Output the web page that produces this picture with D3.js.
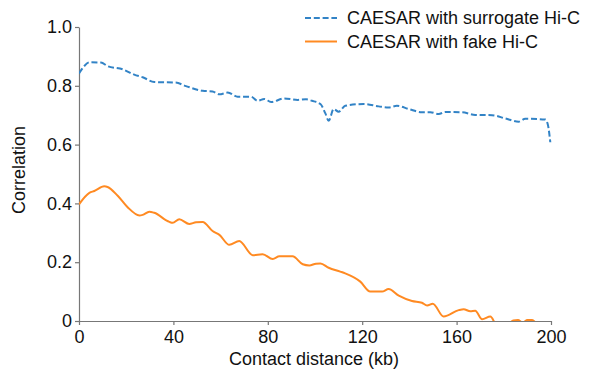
<!DOCTYPE html>
<html>
<head>
<meta charset="utf-8">
<script src="https://cdn.jsdelivr.net/npm/d3@7"></script>
<style>
    body { margin: 0; background: #fff; }
    text { font-family: "Liberation Sans", Arial, sans-serif; fill: #111; }
</style>
</head>
<body>
<div id="chart"></div>
<script>

const frame_width = 595;
const frame_height = 371;
const margins = {left: 79, right: 44, top: 27, bottom: 50};

// series: contact distance (kb) and correlation
const surrogate_x = [0, 2, 4.4, 9.3, 12.1, 18.5, 23.4, 27, 31.9, 41, 45.3, 52.4, 56.6, 59.5, 63, 67.2, 72.9, 75.7, 78.5, 81.4, 87, 92.7, 96.2, 98.7, 102.3, 104.4, 105.8, 107.9, 110, 112.8, 120.6, 127, 131.2, 134.7, 139.7, 145.3, 148.9, 152.4, 155.2, 162.3, 167.9, 175, 180.6, 186.3, 189.1, 197.6, 198.7, 199.7];
const surrogate_y = [0.842, 0.865, 0.880, 0.879, 0.867, 0.856, 0.838, 0.829, 0.813, 0.811, 0.799, 0.783, 0.781, 0.771, 0.777, 0.763, 0.763, 0.749, 0.755, 0.745, 0.757, 0.752, 0.754, 0.749, 0.738, 0.706, 0.681, 0.721, 0.712, 0.732, 0.738, 0.730, 0.726, 0.732, 0.721, 0.710, 0.710, 0.704, 0.711, 0.710, 0.701, 0.700, 0.689, 0.678, 0.688, 0.685, 0.667, 0.608];

const fake_x = [0, 4.4, 6.5, 10.7, 12.1, 16.4, 20.6, 25.6, 27, 29.8, 31.9, 38.3, 39.7, 42.5, 46.7, 49.6, 52.4, 56.6, 59.5, 63.7, 67.9, 73.6, 77.8, 82.1, 84.9, 90.5, 94.8, 97.6, 100.4, 102.3, 105.8, 110.7, 112.8, 119.2, 123.4, 128.4, 131.2, 135.5, 141.1, 145.3, 147.5, 149.9, 154.5, 160.9, 163, 165.8, 167.9, 170.8, 174.3, 176.5, 180, 184, 186, 188, 190, 192, 195, 200];
const fake_y = [0.397, 0.436, 0.442, 0.458, 0.456, 0.426, 0.387, 0.359, 0.361, 0.372, 0.368, 0.337, 0.334, 0.346, 0.330, 0.336, 0.337, 0.306, 0.293, 0.259, 0.272, 0.224, 0.227, 0.211, 0.220, 0.220, 0.193, 0.189, 0.195, 0.196, 0.181, 0.168, 0.162, 0.134, 0.100, 0.100, 0.109, 0.086, 0.068, 0.062, 0.053, 0.059, 0.015, 0.037, 0.040, 0.033, 0.035, 0.006, 0.015, -0.01, -0.03, 0.002, 0.003, -0.005, 0.003, 0.003, -0.02, -0.05];

const series_names = ["CAESAR with surrogate Hi-C", "CAESAR with fake Hi-C"];
const x_ticks = [0, 40, 80, 120, 160, 200];
const y_ticks = [0, 0.2, 0.4, 0.6, 0.8, 1.0];

const FRAME1 = d3.select("#chart")
    .append("svg")
        .attr("width", frame_width)
        .attr("height", frame_height);

const X_SCALE = d3.scaleLinear()
    .domain([0, 200])
    .range([margins.left, frame_width - margins.right]);

const Y_SCALE = d3.scaleLinear()
    .domain([0, 1])
    .range([frame_height - margins.bottom, margins.top]);

// clip so the fake series does not go under the x axis
FRAME1.append("defs").append("clipPath")
    .attr("id", "clip")
    .append("rect")
        .attr("x", margins.left)
        .attr("y", 0)
        .attr("width", frame_width - margins.left - margins.right + 4)
        .attr("height", Y_SCALE(0));

// x axis
const xAxis = FRAME1.append("g")
    .attr("transform", "translate(0," + Y_SCALE(0) + ")")
    .call(d3.axisBottom(X_SCALE).tickValues(x_ticks).tickSize(4).tickSizeOuter(0));

// y axis
const yAxis = FRAME1.append("g")
    .attr("transform", "translate(" + X_SCALE(0) + ",0)")
    .call(d3.axisLeft(Y_SCALE).tickValues(y_ticks).tickSize(4).tickSizeOuter(0)
        .tickFormat(d => d === 0 ? "0" : d.toFixed(1)));

[xAxis, yAxis].forEach(ax => {
    ax.select(".domain").attr("stroke", "#777").attr("stroke-width", 1.2);
    ax.selectAll(".tick line").attr("stroke", "#777").attr("stroke-width", 1.2);
    ax.selectAll(".tick text")
        .attr("font-size", "18px")
        .attr("font-family", "Liberation Sans, Arial, sans-serif")
        .attr("fill", "#111");
});
xAxis.selectAll(".tick text").attr("dy", "0.85em");
yAxis.selectAll(".tick text").attr("x", -7);

// axis titles
FRAME1.append("text")
    .attr("x", 314)
    .attr("y", 365)
    .attr("text-anchor", "middle")
    .attr("font-size", "18px")
    .text("Contact distance (kb)");

FRAME1.append("text")
    .attr("transform", "translate(25,170) rotate(-90)")
    .attr("text-anchor", "middle")
    .attr("font-size", "18px")
    .text("Correlation");

const line = d3.line()
    .x(d => X_SCALE(d[0]))
    .y(d => Y_SCALE(d[1]))
    .curve(d3.curveMonotoneX);

const lines = FRAME1.append("g").attr("clip-path", "url(#clip)");

lines.append("path")
    .datum(d3.zip(fake_x, fake_y))
    .attr("d", line)
    .attr("fill", "none")
    .attr("stroke", "#ff8a22")
    .attr("stroke-width", 2);

lines.append("path")
    .datum(d3.zip(surrogate_x, surrogate_y))
    .attr("d", line)
    .attr("fill", "none")
    .attr("stroke", "#3283c6")
    .attr("stroke-width", 2)
    .attr("stroke-dasharray", "6,2.8");

// legend
const legend = FRAME1.append("g");
const styles = [{c: "#3283c6", dash: "6,2.8"}, {c: "#ff8a22", dash: null}];
series_names.forEach((name, i) => {
    const y = 18 + i * 23.5;
    legend.append("line")
        .attr("x1", 305).attr("x2", 337)
        .attr("y1", y).attr("y2", y)
        .attr("stroke", styles[i].c)
        .attr("stroke-width", 2)
        .attr("stroke-dasharray", styles[i].dash);
    legend.append("text")
        .attr("x", 347)
        .attr("y", y)
        .attr("dy", "0.35em")
        .attr("font-size", "18px")
        .text(name);
});

</script>
</body>
</html>
